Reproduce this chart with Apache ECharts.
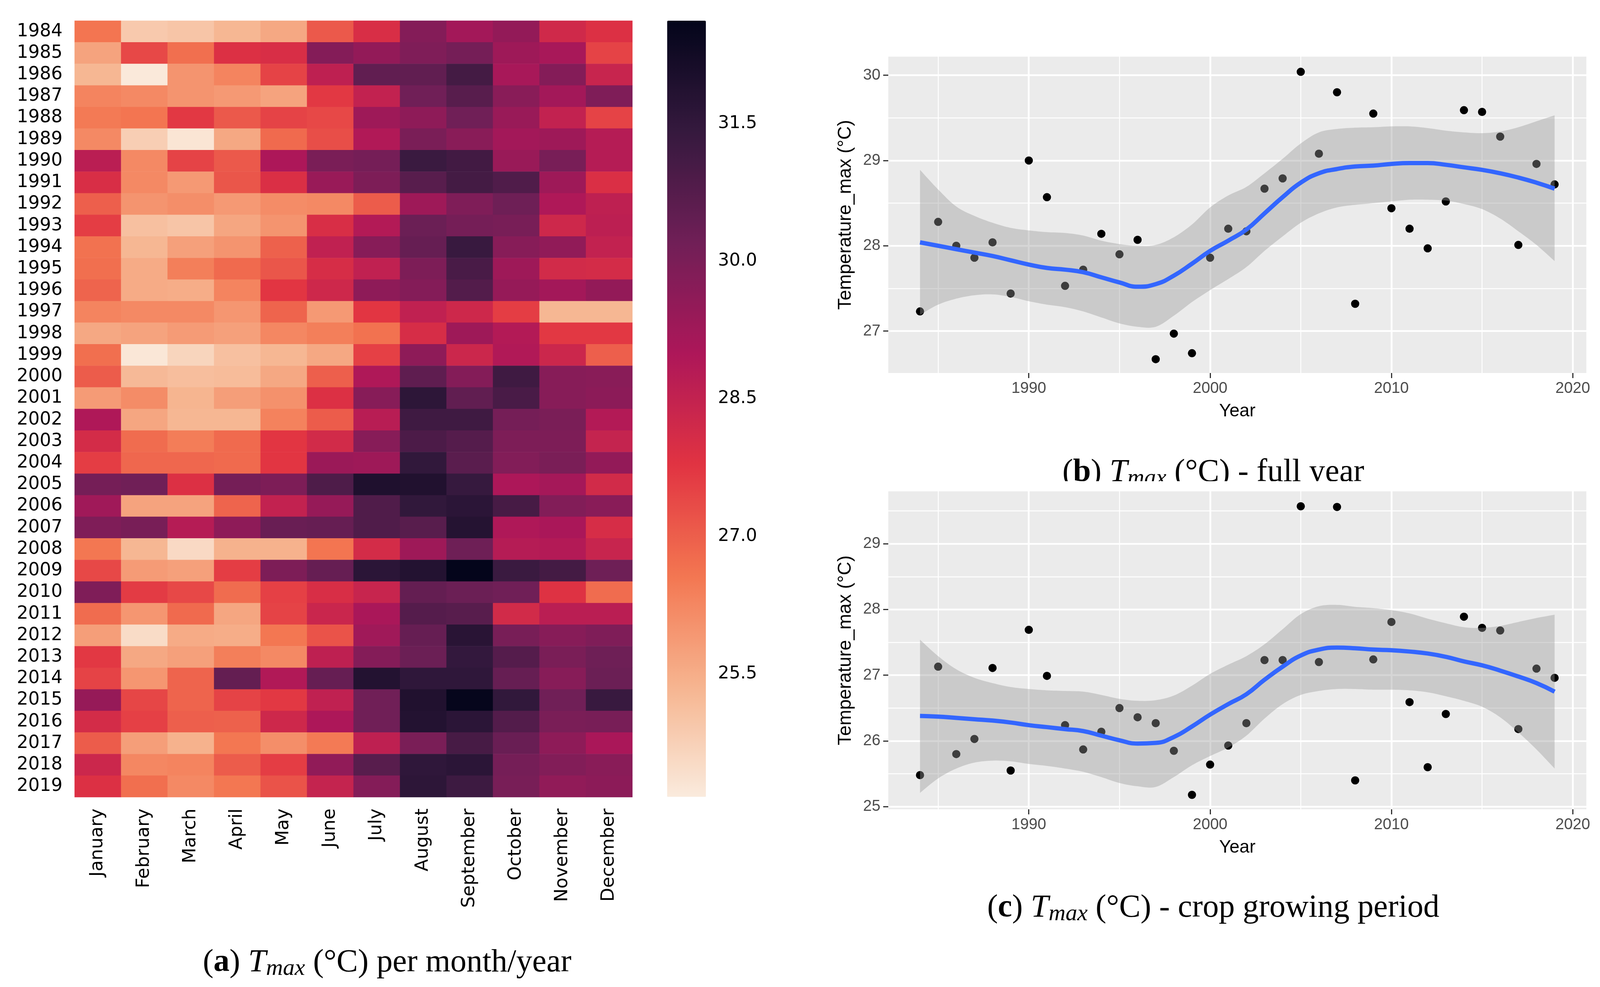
<!DOCTYPE html>
<html>
<head>
<meta charset="utf-8">
<style>
  html, body { margin: 0; padding: 0; background: #fff; }
  #chart { width: 4128px; height: 2527px; }
</style>
<script src="https://cdn.jsdelivr.net/npm/echarts@6/dist/echarts.min.js"></script>
</head>
<body>
<div id="chart"></div>
<script>
const months = ['January', 'February', 'March', 'April', 'May', 'June', 'July', 'August', 'September', 'October', 'November', 'December'];
const years = [1984, 1985, 1986, 1987, 1988, 1989, 1990, 1991, 1992, 1993, 1994, 1995, 1996, 1997, 1998, 1999, 2000, 2001,
  2002, 2003, 2004, 2005, 2006, 2007, 2008, 2009, 2010, 2011, 2012, 2013, 2014, 2015, 2016, 2017, 2018, 2019];

// one row per year, January..December
const monthlyTmax = [
  [26.6, 24.9, 25.0, 25.3, 25.6, 27.1, 28.0, 29.8, 29.2, 29.5, 28.2, 27.9],
  [25.7, 27.4, 26.7, 27.9, 28.0, 29.8, 29.5, 29.9, 30.1, 29.3, 29.1, 27.5],
  [25.3, 24.2, 26.0, 26.3, 27.5, 28.6, 30.5, 30.5, 31.1, 29.1, 29.8, 28.4],
  [26.3, 26.2, 26.0, 25.9, 25.7, 27.7, 28.5, 30.2, 30.7, 29.7, 29.2, 29.9],
  [26.5, 26.6, 27.7, 27.1, 27.5, 27.4, 29.3, 29.6, 30.2, 29.4, 28.5, 27.5],
  [26.2, 24.8, 24.3, 25.6, 26.8, 27.3, 28.9, 30.0, 29.7, 29.2, 29.3, 28.8],
  [28.7, 26.2, 27.5, 27.1, 29.0, 30.0, 30.1, 31.3, 31.15, 29.4, 30.05, 28.8],
  [28.0, 26.2, 25.9, 27.15, 27.95, 29.4, 29.95, 30.7, 31.1, 30.85, 29.3, 27.95],
  [27.0, 26.0, 26.1, 25.9, 26.15, 26.2, 27.05, 29.3, 29.9, 30.25, 28.95, 28.6],
  [27.6, 25.1, 25.0, 25.65, 26.0, 28.0, 28.85, 30.3, 30.1, 30.05, 28.25, 28.65],
  [26.65, 25.3, 25.75, 26.0, 26.95, 28.55, 29.75, 30.4, 31.35, 29.75, 29.55, 28.5],
  [26.7, 25.55, 26.4, 26.8, 27.15, 28.05, 28.55, 29.95, 31.0, 29.3, 28.15, 28.1],
  [26.9, 25.55, 25.5, 26.3, 27.75, 28.25, 29.6, 29.8, 30.8, 29.45, 29.2, 29.5],
  [26.3, 26.2, 26.2, 25.95, 26.9, 25.9, 27.75, 28.55, 28.25, 27.6, 25.3, 25.3],
  [25.6, 25.7, 25.85, 25.75, 26.25, 26.4, 26.65, 28.05, 29.3, 28.85, 27.7, 27.7],
  [26.7, 24.25, 24.65, 25.1, 25.3, 25.6, 27.55, 29.6, 28.3, 28.9, 28.3, 27.0],
  [27.05, 25.25, 25.15, 25.2, 25.6, 27.0, 28.95, 30.55, 29.8, 31.2, 29.75, 29.7],
  [25.85, 26.15, 25.35, 25.8, 26.05, 27.9, 29.75, 31.6, 30.5, 31.0, 29.75, 29.65],
  [28.95, 25.65, 25.3, 25.3, 26.35, 27.05, 28.75, 31.2, 31.2, 30.1, 30.0, 28.85],
  [28.1, 26.75, 26.45, 26.8, 27.75, 28.15, 29.75, 30.95, 30.75, 29.95, 29.95, 28.45],
  [27.6, 26.85, 26.85, 26.8, 27.75, 29.35, 29.3, 31.5, 30.65, 29.85, 30.0, 29.5],
  [30.1, 30.2, 27.9, 30.1, 29.95, 30.9, 31.95, 31.9, 31.4, 29.0, 29.15, 28.15],
  [29.25, 25.7, 25.7, 26.9, 28.5, 29.45, 30.85, 31.5, 31.65, 31.05, 29.85, 29.7],
  [29.9, 30.05, 28.8, 29.6, 30.35, 30.4, 30.85, 30.7, 31.8, 28.95, 29.05, 28.05],
  [26.55, 25.3, 24.55, 25.4, 25.4, 26.6, 28.1, 29.3, 30.25, 28.8, 28.85, 28.4],
  [27.4, 25.85, 25.75, 27.6, 29.95, 30.4, 31.65, 31.85, 32.6, 31.3, 31.1, 30.25],
  [29.9, 27.65, 27.4, 26.75, 27.55, 28.0, 28.4, 30.45, 30.3, 30.2, 27.85, 26.75],
  [26.75, 25.95, 26.8, 25.65, 27.5, 28.35, 29.05, 30.75, 30.7, 28.15, 28.7, 28.7],
  [25.8, 24.5, 25.55, 25.5, 26.55, 27.2, 29.25, 30.4, 31.7, 30.05, 29.75, 29.9],
  [27.7, 25.6, 25.75, 26.4, 26.2, 28.6, 29.8, 30.3, 31.45, 30.75, 30.0, 30.25],
  [27.5, 25.95, 26.9, 30.45, 28.9, 30.4, 31.85, 31.55, 31.55, 30.4, 29.75, 30.3],
  [29.45, 27.45, 26.9, 27.5, 27.7, 28.55, 30.2, 31.9, 32.55, 31.5, 30.2, 31.35],
  [28.1, 27.55, 27.0, 26.95, 28.25, 29.0, 30.2, 31.85, 31.65, 30.8, 30.0, 30.05],
  [27.05, 25.8, 25.4, 26.55, 26.1, 26.5, 28.6, 30.0, 31.05, 30.35, 29.6, 29.05],
  [28.3, 26.25, 26.3, 27.05, 27.6, 29.55, 30.7, 31.55, 31.65, 30.1, 29.85, 29.7],
  [27.9, 26.7, 26.2, 26.55, 27.2, 28.45, 29.8, 31.6, 31.25, 30.05, 29.55, 29.65]
];
const colorbarMin = 24.16;
const colorbarMax = 32.62;
const colorbarTicks = [25.5, 27.0, 28.5, 30.0, 31.5];
const rocketReversed = ['#faebdd', '#f6b48f', '#f37651', '#e13342', '#ad1759', '#701f57', '#35193e', '#03051a'];

// panel b - full year
const fullYearPoints = [27.23, 28.28, 28.0, 27.86, 28.04, 27.44, 29.0, 28.57, 27.53, 27.72, 28.14, 27.9, 28.07, 26.67, 26.97, 26.74, 27.86, 28.2,
  28.17, 28.67, 28.79, 30.04, 29.08, 29.8, 27.32, 29.55, 28.44, 28.2, 27.97, 28.52, 29.59, 29.57, 29.28, 28.01, 28.96, 28.72];
const fullYearSmooth = [28.04, 28.0, 27.96, 27.92, 27.88, 27.83, 27.78, 27.74, 27.72, 27.69, 27.63, 27.57, 27.52, 27.55, 27.65, 27.79, 27.94, 28.06,
  28.19, 28.38, 28.57, 28.74, 28.85, 28.9, 28.93, 28.94, 28.96, 28.97, 28.97, 28.95, 28.92, 28.89, 28.85, 28.8, 28.74, 28.67];
const fullYearUpper = [28.89, 28.66, 28.46, 28.35, 28.27, 28.21, 28.18, 28.16, 28.15, 28.12, 28.06, 28.02, 28.0, 28.01, 28.1, 28.25, 28.45, 28.59,
  28.69, 28.85, 29.02, 29.2, 29.33, 29.37, 29.385, 29.39, 29.4, 29.4, 29.38, 29.35, 29.33, 29.32, 29.34, 29.39, 29.46, 29.53];
const fullYearLower = [27.19, 27.31, 27.38, 27.42, 27.43, 27.4, 27.35, 27.31, 27.28, 27.23, 27.16, 27.09, 27.05, 27.05, 27.18, 27.34, 27.48, 27.61,
  27.75, 27.94, 28.11, 28.27, 28.38, 28.45, 28.48, 28.5, 28.52, 28.54, 28.54, 28.53, 28.49, 28.43, 28.32, 28.17, 28.01, 27.82];

// panel c - crop growing period
const cropPoints = [25.48, 27.13, 25.8, 26.03, 27.11, 25.55, 27.69, 26.99, 26.24, 25.87, 26.14, 26.5, 26.36, 26.27, 25.85, 25.18, 25.64, 25.93,
  26.27, 27.23, 27.23, 29.57, 27.2, 29.56, 25.4, 27.24, 27.81, 26.59, 25.6, 26.41, 27.89, 27.72, 27.68, 26.18, 27.1, 26.96];
const cropSmooth = [26.38, 26.37, 26.35, 26.33, 26.31, 26.28, 26.24, 26.21, 26.18, 26.15, 26.08, 26.01, 25.96, 25.97, 26.06, 26.22, 26.4, 26.56,
  26.71, 26.93, 27.13, 27.3, 27.39, 27.42, 27.41, 27.39, 27.38, 27.36, 27.33, 27.28, 27.21, 27.15, 27.07, 26.98, 26.88, 26.75];
const cropUpper = [27.54, 27.29, 27.09, 26.96, 26.88, 26.82, 26.79, 26.77, 26.76, 26.75, 26.7, 26.64, 26.61, 26.62, 26.69, 26.84, 27.02, 27.16,
  27.29, 27.47, 27.7, 27.93, 28.05, 28.07, 28.04, 28.02, 27.99, 27.94, 27.86, 27.79, 27.73, 27.72, 27.75, 27.81, 27.87, 27.92];
const cropLower = [25.21, 25.43, 25.58, 25.67, 25.7, 25.69, 25.65, 25.62, 25.58, 25.53, 25.45, 25.36, 25.31, 25.3, 25.45, 25.63, 25.77, 25.9,
  26.08, 26.34, 26.56, 26.7, 26.76, 26.79, 26.79, 26.78, 26.78, 26.77, 26.74, 26.68, 26.61, 26.52, 26.36, 26.13, 25.87, 25.58];

const xTicks = [1990, 2000, 2010, 2020];
const xMinorTicks = [1985, 1995, 2005, 2015];
const fullYearTicks = [27, 28, 29, 30];
const fullYearMinorTicks = [27.5, 28.5, 29.5];
const cropTicks = [25, 26, 27, 28, 29];
const cropMinorTicks = [25.5, 26.5, 27.5, 28.5, 29.5];

const sansFont = '"Liberation Sans", Arial, sans-serif';
const heatFont = '"DejaVu Sans", sans-serif';
const serifFont = '"Liberation Serif", serif';

const panelTick = { show: true, length: 13, inside: false, lineStyle: { color: '#333', width: 3 } };

function majorAxis(gridIndex, min, max, ticks, extra) {
  return Object.assign({
    type: 'value', gridIndex, min, max,
    axisLine: { show: false },
    axisTick: Object.assign({ customValues: ticks }, panelTick),
    axisLabel: { customValues: ticks, margin: 20, color: '#4d4d4d', fontSize: 40, fontFamily: sansFont, formatter: v => String(v) },
    splitLine: { show: true, lineStyle: { color: '#fff', width: 4.5 } }
  }, extra);
}

function minorAxis(gridIndex, min, max, ticks, extra) {
  return Object.assign({
    type: 'value', gridIndex, min, max,
    axisLine: { show: false },
    axisTick: { show: false, customValues: ticks },
    axisLabel: { show: false, customValues: ticks },
    splitLine: { show: true, lineStyle: { color: '#fff', width: 2.3 } }
  }, extra);
}

// rounds off a pixel polyline (catmull-rom) so the ribbon edges are not angular
function roundOff(pts) {
  const out = [];
  for (let i = 0; i < pts.length - 1; i++) {
    const p0 = pts[Math.max(i - 1, 0)], p1 = pts[i], p2 = pts[i + 1], p3 = pts[Math.min(i + 2, pts.length - 1)];
    for (let s = 0; s < 8; s++) {
      const t = s / 8, t2 = t * t, t3 = t2 * t;
      out.push([0, 1].map(k => 0.5 * (2 * p1[k] + (p2[k] - p0[k]) * t + (2 * p0[k] - 5 * p1[k] + 4 * p2[k] - p3[k]) * t2 + (3 * p1[k] - p0[k] - 3 * p2[k] + p3[k]) * t3)));
    }
  }
  out.push(pts[pts.length - 1]);
  return out;
}

// the grey confidence ribbon, drawn once from the first item
function ribbon(upper, lower) {
  return function (params, api) {
    if (params.dataIndex !== 0) return null;
    const top = roundOff(years.map((y, i) => api.coord([y, upper[i]])));
    const bottom = roundOff(years.map((y, i) => api.coord([y, lower[i]]))).reverse();
    return {
      type: 'polygon',
      shape: { points: top.concat(bottom) },
      style: { fill: 'rgba(153,153,153,0.4)', stroke: null }
    };
  };
}

function panelSeries(xAxisIndex, yAxisIndex, points, smooth, upper, lower) {
  return [
    {
      type: 'scatter', xAxisIndex, yAxisIndex, z: 2, silent: true, symbolSize: 21,
      itemStyle: { color: '#000', opacity: 1 },
      data: years.map((y, i) => [y, points[i]])
    },
    {
      type: 'custom', xAxisIndex, yAxisIndex, z: 3, silent: true,
      renderItem: ribbon(upper, lower),
      data: years.map((y, i) => [y, upper[i]])
    },
    {
      type: 'line', xAxisIndex, yAxisIndex, z: 4, silent: true, smooth: 0.5, showSymbol: false,
      lineStyle: { color: '#3366ff', width: 11 },
      data: years.map((y, i) => [y, smooth[i]])
    }
  ];
}

function caption(tag, rest, centerX, top) {
  return {
    text: '{n|(}{b|' + tag + '}{n|) }{i|T}{s|max}{n| (°C)' + rest + '}',
    left: centerX, top, textAlign: 'center',
    textStyle: {
      fontWeight: 'normal',
      rich: {
        n: { fontFamily: serifFont, fontSize: 82, fontWeight: 'normal', color: '#000', lineHeight: 90 },
        b: { fontFamily: serifFont, fontSize: 82, fontWeight: 'bold', color: '#000', lineHeight: 90 },
        i: { fontFamily: serifFont, fontSize: 82, fontWeight: 'normal', fontStyle: 'italic', color: '#000', lineHeight: 90 },
        s: { fontFamily: serifFont, fontSize: 60, fontWeight: 'normal', fontStyle: 'italic', color: '#000', lineHeight: 72, verticalAlign: 'bottom' }
      }
    }
  };
}

const heatData = [];
monthlyTmax.forEach((row, yearIndex) => {
  row.forEach((value, monthIndex) => heatData.push([monthIndex, yearIndex, value]));
});

const panelGrid = { show: true, backgroundColor: '#ebebeb', borderWidth: 0, containLabel: false };
const xMin = 1982.25, xMax = 2020.75;

const option = {
  animation: false,
  backgroundColor: '#fff',
  title: [
    caption('a', ' per month/year', 986, 2415),
    caption('b', ' - full year', 3101, 1160),
    caption('c', ' - crop growing period', 3101, 2275)
  ],
  grid: [
    { left: 191, top: 53, width: 1428, height: 1988, containLabel: false },
    { left: 1708, top: 53, width: 99, height: 1987, containLabel: false },
    Object.assign({ left: 2274, top: 145, width: 1787, height: 810 }, panelGrid),
    Object.assign({ left: 2274, top: 1258, width: 1787, height: 814 }, panelGrid)
  ],
  visualMap: {
    type: 'continuous', seriesIndex: 0, min: colorbarMin, max: colorbarMax,
    left: 1708, top: 53, itemWidth: 99, itemHeight: 1987, padding: 0,
    calculable: false, hoverLink: false, text: null, showLabel: false,
    inRange: { color: rocketReversed }
  },
  xAxis: [
    {
      type: 'category', gridIndex: 0, data: months, boundaryGap: true,
      axisLine: { show: false },
      axisTick: { alignWithLabel: true, length: 15, lineStyle: { color: '#000', width: 3 } },
      axisLabel: { interval: 0, rotate: 90, margin: 29, color: '#000', fontSize: 46, fontFamily: heatFont }
    },
    { type: 'value', gridIndex: 1, min: 0, max: 1, show: false },
    majorAxis(2, xMin, xMax, xTicks, {
      name: 'Year', nameLocation: 'middle', nameGap: 75,
      nameTextStyle: { color: '#000', fontSize: 46, fontFamily: sansFont }
    }),
    minorAxis(2, xMin, xMax, xMinorTicks),
    majorAxis(3, xMin, xMax, xTicks, {
      name: 'Year', nameLocation: 'middle', nameGap: 75,
      nameTextStyle: { color: '#000', fontSize: 46, fontFamily: sansFont }
    }),
    minorAxis(3, xMin, xMax, xMinorTicks)
  ],
  yAxis: [
    {
      type: 'category', gridIndex: 0, data: years, inverse: true, boundaryGap: true,
      axisLine: { show: false },
      axisTick: { alignWithLabel: true, length: 15, lineStyle: { color: '#000', width: 3 } },
      axisLabel: { interval: 0, margin: 31, color: '#000', fontSize: 46, fontFamily: heatFont }
    },
    {
      type: 'value', gridIndex: 1, min: colorbarMin, max: colorbarMax, position: 'right',
      axisLine: { show: false },
      splitLine: { show: false },
      axisTick: { show: true, length: 15, customValues: colorbarTicks, lineStyle: { color: '#000', width: 3 } },
      axisLabel: {
        customValues: colorbarTicks, margin: 31, color: '#000', fontSize: 45, fontFamily: heatFont,
        formatter: v => v.toFixed(1)
      }
    },
    majorAxis(2, 26.508, 30.218, fullYearTicks, {
      name: 'Temperature_max (°C)', nameLocation: 'middle', nameGap: 85, nameRotate: 90,
      nameTextStyle: { color: '#000', fontSize: 48, fontFamily: sansFont }
    }),
    minorAxis(2, 26.508, 30.218, fullYearMinorTicks),
    majorAxis(3, 24.96, 29.797, cropTicks, {
      name: 'Temperature_max (°C)', nameLocation: 'middle', nameGap: 85, nameRotate: 90,
      nameTextStyle: { color: '#000', fontSize: 48, fontFamily: sansFont }
    }),
    minorAxis(3, 24.96, 29.797, cropMinorTicks)
  ],
  // caption (b) is cut off by the panel below it in the original figure
  graphic: [
    { type: 'rect', z: 100, silent: true, shape: { x: 2274, y: 1232, width: 1787, height: 26 }, style: { fill: '#fff' } }
  ],
  series: [
    {
      type: 'heatmap', xAxisIndex: 0, yAxisIndex: 0, silent: true,
      itemStyle: { borderWidth: 0 },
      data: heatData
    }
  ].concat(
    panelSeries(2, 2, fullYearPoints, fullYearSmooth, fullYearUpper, fullYearLower),
    panelSeries(4, 4, cropPoints, cropSmooth, cropUpper, cropLower)
  )
};

const chart = echarts.init(document.getElementById('chart'));
chart.setOption(option);
</script>
</body>
</html>
